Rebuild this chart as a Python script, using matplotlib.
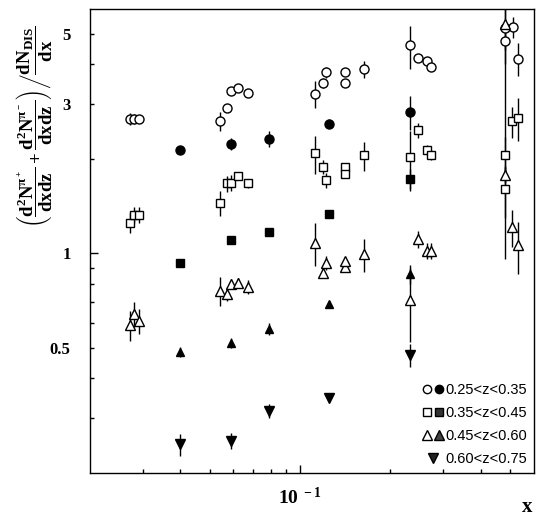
import matplotlib
matplotlib.use("Agg")
import matplotlib.pyplot as plt
from matplotlib.ticker import FixedLocator, FixedFormatter, NullFormatter
from matplotlib.legend_handler import HandlerTuple

# --- data ---
# 0.25<z<0.35
circ_open_x = [0.0271, 0.0281, 0.0291, 0.0541, 0.057, 0.0589, 0.062, 0.0669,
               0.112, 0.1197, 0.122, 0.1416, 0.1416, 0.1637,
               0.2331, 0.2465, 0.2646, 0.2735, 0.481, 0.481, 0.51, 0.532]
circ_open_y = [2.68, 2.68, 2.68, 2.63, 2.91, 3.29, 3.36, 3.23,
               3.22, 3.48, 3.77, 3.79, 3.48, 3.86,
               4.59, 4.20, 4.10, 3.92, 5.22, 4.74, 5.26, 4.17]
circ_open_e = [0.12, 0.10, 0.06, 0.18, 0.05, 0.05, 0.05, 0.05,
               0.32, 0.13, 0.16, 0.10, 0.07, 0.24,
               0.72, 0.12, 0.09, 0.11, 1.2, 0.3, 0.4, 0.5]
circ_fill_x = [0.04, 0.0589, 0.079, 0.1248, 0.2331]
circ_fill_y = [2.13, 2.23, 2.32, 2.59, 2.82]
circ_fill_e = [0.03, 0.10, 0.14, 0.08, 0.35]

# 0.35<z<0.45
sq_open_x = [0.0271, 0.0281, 0.0291, 0.0541, 0.057, 0.0589, 0.062, 0.0669,
             0.112, 0.1197, 0.122, 0.1416, 0.1416, 0.1637,
             0.2331, 0.2465, 0.2646, 0.2735, 0.481, 0.481, 0.506, 0.532]
sq_open_y = [1.25, 1.33, 1.33, 1.45, 1.67, 1.68, 1.76, 1.67,
             2.08, 1.89, 1.71, 1.89, 1.79, 2.05,
             2.02, 2.47, 2.14, 2.06, 2.05, 1.60, 2.63, 2.70]
sq_open_e = [0.09, 0.08, 0.08, 0.13, 0.10, 0.10, 0.05, 0.06,
             0.29, 0.10, 0.09, 0.04, 0.05, 0.22,
             0.44, 0.14, 0.08, 0.08, 0.3, 0.3, 0.30, 0.42]
sq_fill_x = [0.04, 0.059, 0.079, 0.1248, 0.2331]
sq_fill_y = [0.93, 1.10, 1.17, 1.335, 1.73]
sq_fill_e = [0.02, 0.03, 0.03, 0.02, 0.13]

# 0.45<z<0.60
tri_open_x = [0.0271, 0.0281, 0.0291, 0.0541, 0.057, 0.059, 0.062, 0.0669,
              0.112, 0.1197, 0.122, 0.141, 0.1416, 0.1637,
              0.2331, 0.2465, 0.2646, 0.2735, 0.481, 0.481, 0.506, 0.532]
tri_open_y = [0.591, 0.642, 0.611, 0.761, 0.743, 0.798, 0.805, 0.784,
              1.08, 0.868, 0.934, 0.903, 0.945, 0.995,
              0.711, 1.108, 1.019, 1.019, 1.78, 5.36, 1.21, 1.06]
tri_open_e = [0.063, 0.058, 0.055, 0.08, 0.04, 0.03, 0.03, 0.04,
              0.17, 0.03, 0.05, 0.02, 0.03, 0.12,
              0.19, 0.07, 0.06, 0.06, 0.10, 4.4, 0.16, 0.20]
tri_fill_x = [0.04, 0.059, 0.079, 0.1248, 0.2331]
tri_fill_y = [0.487, 0.519, 0.574, 0.691, 0.858]
tri_fill_e = [0.018, 0.02, 0.025, 0.015, 0.06]

# 0.60<z<0.75
dtri_x = [0.04, 0.059, 0.079, 0.1244, 0.2331]
dtri_y = [0.247, 0.253, 0.315, 0.347, 0.474]
dtri_e = [0.02, 0.015, 0.016, 0.008, 0.04]

labels = ["0.25<z<0.35", "0.35<z<0.45", "0.45<z<0.60", "0.60<z<0.75"]

y_minor = [0.3, 0.4, 0.5, 0.6, 0.7, 0.8, 0.9, 2, 3, 4, 5]
y_minor_lab = ["", "", "0.5", "", "", "", "", "", "3", "", "5"]
x_minor = [0.03, 0.04, 0.05, 0.06, 0.07, 0.08, 0.09, 0.2, 0.3, 0.4, 0.5]

plt.rcParams["mathtext.fontset"] = "custom"
plt.rcParams["mathtext.rm"] = "Liberation Serif:bold"
plt.rcParams["mathtext.it"] = "Liberation Serif:bold"
plt.rcParams["mathtext.bf"] = "Liberation Serif:bold"
plt.rcParams["mathtext.default"] = "rm"

fig = plt.figure(figsize=(5.42, 5.25), dpi=100)
ax = fig.add_axes([0.166, 0.099, 0.819, 0.884])

common = dict(ecolor="black", elinewidth=1.0, capsize=0, mec="black", mew=1.0, ls="none")
ax.errorbar(circ_open_x, circ_open_y, yerr=circ_open_e, fmt="o", ms=6.5, mfc="white", **common)
ax.errorbar(circ_fill_x, circ_fill_y, yerr=circ_fill_e, fmt="o", ms=6.5, mfc="black", **common)
ax.errorbar(sq_open_x, sq_open_y, yerr=sq_open_e, fmt="s", ms=6, mfc="white", **common)
ax.errorbar(sq_fill_x, sq_fill_y, yerr=sq_fill_e, fmt="s", ms=6, mfc="black", **common)
ax.errorbar(tri_open_x, tri_open_y, yerr=tri_open_e, fmt="^", ms=7, mfc="white", **common)
ax.errorbar(tri_fill_x, tri_fill_y, yerr=tri_fill_e, fmt="^", ms=6, mfc="black", **common)
ax.errorbar(dtri_x, dtri_y, yerr=dtri_e, fmt="v", ms=6.5, mfc="black", **common)

ax.set_xscale("log")
ax.set_yscale("log")
ax.set_xlim(0.02, 0.6)
ax.set_ylim(0.2, 6)

ax.xaxis.set_major_locator(FixedLocator([0.1]))
ax.xaxis.set_major_formatter(FixedFormatter([r"$10^{\ -1}$"]))
ax.xaxis.set_minor_locator(FixedLocator(x_minor))
ax.xaxis.set_minor_formatter(NullFormatter())
ax.yaxis.set_major_locator(FixedLocator([1]))
ax.yaxis.set_major_formatter(FixedFormatter(["1"]))
ax.yaxis.set_minor_locator(FixedLocator(y_minor))
ax.yaxis.set_minor_formatter(FixedFormatter(y_minor_lab))

ax.tick_params(which="both", direction="in", top=False, right=False, color="black")
ax.tick_params(which="major", length=6, width=1)
ax.tick_params(which="minor", length=3, width=1)
ax.tick_params(axis="y", which="both", pad=14)
ax.tick_params(axis="x", which="both", pad=10)
for lab in ax.get_yticklabels(which="both"):
    lab.set_fontfamily("Liberation Serif")
    lab.set_fontweight("bold")
    lab.set_fontsize(12)
for lab in ax.get_xticklabels(which="both"):
    lab.set_fontsize(14)
for sp in ax.spines.values():
    sp.set_linewidth(1.0)

ylab = (r"$\left(\dfrac{d^2N^{\pi^+}}{dxdz}+\dfrac{d^2N^{\pi^-}}{dxdz}\right)"
        r"\left/\dfrac{dN_{DIS}}{dx}\right.$")
fig.text(0.062, 0.952, ylab, rotation=90, ha="center", va="top", fontsize=13.5)
fig.text(0.972, 0.015, "x", fontfamily="Liberation Serif", fontweight="bold",
         fontsize=15, ha="center", va="bottom")

# legend markers only (no error bars)
lk = dict(ls="none", mec="black", mew=1.0)
m_co, = ax.plot([], [], "o", ms=6, mfc="white", **lk)
m_cf, = ax.plot([], [], "o", ms=6, mfc="black", **lk)
m_so, = ax.plot([], [], "s", ms=6, mfc="white", **lk)
m_sf, = ax.plot([], [], "s", ms=6, mfc="#333333", **lk)
m_to, = ax.plot([], [], "^", ms=7, mfc="white", **lk)
m_tf, = ax.plot([], [], "^", ms=7, mfc="#444444", **lk)
m_dt, = ax.plot([], [], "v", ms=7, mfc="#222222", **lk)

ax.legend([(m_co, m_cf), (m_so, m_sf), (m_to, m_tf), m_dt], labels,
          handler_map={tuple: HandlerTuple(ndivide=None, pad=0.2)},
          loc="lower right", frameon=False, borderaxespad=0.05,
          handlelength=1.5, handletextpad=0.1, labelspacing=0.62,
          prop={"family": "Liberation Sans", "size": 10.5})

fig.savefig("out.png", dpi=100)
